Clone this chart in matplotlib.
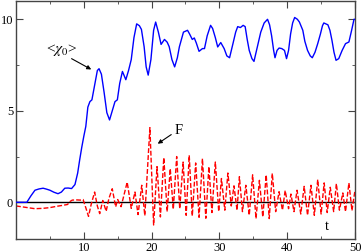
import matplotlib
matplotlib.use("Agg")
import matplotlib.pyplot as plt
from matplotlib.ticker import MultipleLocator

plt.rcParams['font.family'] = ['Liberation Serif', 'DejaVu Serif']
plt.rcParams['mathtext.fontset'] = 'stix'

# <chi_0>(t)
t_chi = [0, 1.6, 2.2, 2.8, 3.4, 4.0, 4.5, 5.0, 5.6, 6.2, 6.7, 7.2, 7.7, 8.2, 8.7, 9.1, 9.4, 9.7,
         10.0, 10.3, 10.6, 10.9, 11.2, 11.6, 12.0, 12.25, 12.6, 13.0, 13.4, 13.8, 14.2, 14.6,
         14.95, 15.3, 15.7, 16.2, 16.6, 17.0, 17.4, 17.8, 18.2, 18.5, 18.9, 19.2, 19.5, 19.9,
         20.3, 20.6, 21.0, 21.4, 21.9, 22.3, 22.6, 23.0, 23.4, 23.8, 24.1, 24.7, 25.3, 25.6,
         26.0, 26.3, 26.6, 27.0, 27.5, 27.8, 28.2, 28.7, 29.0, 29.4, 29.75, 30.2, 30.7, 31.1,
         31.5, 32.0, 32.4, 32.7, 33.1, 33.5, 33.8, 34.1, 34.4, 34.8, 35.1, 35.6, 36.1, 36.6,
         37.1, 37.4, 37.7, 38.0, 38.2, 38.5, 38.8, 39.2, 39.6, 39.9, 40.2, 40.5, 40.8, 41.1,
         41.5, 41.8, 42.3, 42.6, 43.0, 43.4, 43.7, 44.1, 44.5, 44.9, 45.2, 45.4, 46.0, 46.3,
         46.6, 46.9, 47.2, 47.6, 48.1, 48.6, 49.1, 49.5, 49.85, 50]
chi = [0, 0, 0.35, 0.66, 0.73, 0.77, 0.72, 0.66, 0.55, 0.47, 0.56, 0.77, 0.78, 0.75, 0.97, 1.6, 2.33, 3.0,
       3.6, 4.15, 5.2, 5.5, 5.6, 6.4, 7.2, 7.3, 7.0, 6.0, 4.9, 4.5, 5.0, 5.5,
       5.6, 6.5, 7.15, 6.7, 7.2, 7.8, 9.0, 9.75, 9.65, 9.45, 8.5, 7.4, 6.95, 7.8,
       9.4, 9.85, 9.3, 8.63, 8.9, 8.75, 8.5, 7.8, 7.4, 7.9, 8.5, 9.3, 9.4, 9.2,
       8.9, 8.98, 8.7, 8.25, 8.4, 8.4, 9.1, 9.67, 9.5, 9.0, 8.49, 8.73, 8.4, 8.0,
       7.9, 8.67, 9.3, 9.6, 9.55, 9.67, 9.6, 8.9, 8.3, 7.85, 7.7, 8.5, 9.3, 9.8,
       10.0, 9.7, 9.1, 8.3, 7.9, 8.3, 8.43, 8.4, 8.3, 7.85, 8.3, 9.2, 9.8, 10.1,
       10.0, 9.85, 9.4, 8.8, 8.3, 8.0, 7.9, 8.2, 8.67, 9.2, 9.65, 9.8, 9.7, 9.4,
       8.85, 8.2, 7.76, 7.85, 8.3, 8.67, 8.76, 9.4, 10.0, 10.0]

# F(t), peaks and troughs
t_F = [0, 1.5, 2.8, 4.0, 5.0, 6.0, 7.0, 7.6, 8.0, 8.3, 9.0, 9.5, 9.9, 10.3, 10.7, 11.1, 11.6,
       12.0, 12.35, 12.8, 13.3, 13.7, 14.2, 14.7, 15.0, 15.5, 16.4, 17.0, 17.55, 18.0, 18.55,
       19.0, 19.75, 20.3, 20.8, 21.3, 21.8, 22.3, 22.75, 23.2, 23.7, 24.15, 24.65, 25.1, 25.55,
       26.0, 26.5, 27.0, 27.5, 28.0, 28.45, 28.9, 29.4, 29.9, 30.3, 30.8, 31.25, 31.75, 32.15,
       32.6, 32.95, 33.4, 33.9, 34.4, 34.9, 35.4, 35.9, 36.4, 36.9, 37.35, 37.8, 38.3, 38.8,
       39.3, 39.7, 40.2, 40.55, 41.0, 41.45, 42.0, 42.5, 43.0, 43.5, 44.0, 44.5, 45.0, 45.45,
       45.9, 46.35, 46.85, 47.25, 47.7, 48.2, 48.6, 49.1, 49.55, 50.0]
F = [-0.2, -0.28, -0.35, -0.33, -0.29, -0.22, -0.16, -0.12, 0.05, 0.12, 0.13, 0.12, 0.15, -0.3, -0.77, -0.1, 0.56,
     -0.2, -0.62, 0.1, -0.49, 0.2, 0.74, -0.25, 0.15, -0.24, 1.1, -0.33, 0.56, -0.67, 0.93,
     -0.73, 4.08, -1.24, 1.95, -0.8, 2.44, -0.51, 1.84, -0.38, 2.5, -0.35, 2.2, -0.71, 2.57,
     -0.75, 2.15, -0.82, 2.39, -0.87, 1.95, -0.56, 2.2, -0.5, 1.3, -0.43, 1.6, -0.2, 0.9,
     -0.43, 1.4, -0.51, 0.93, -0.71, 1.5, -0.89, 1.2, -0.8, 1.5, -0.89, 1.58, -0.51, 0.58,
     -0.43, 0.64, -0.35, 0.45, -0.51, 0.66, -0.64, 0.87, -0.71, 0.93, -0.71, 1.24, -0.64, 1.06,
     -0.56, 0.82, -0.51, 1.02, -0.43, 0.51, -0.51, 1.06, -0.45, 0.66]

fig = plt.figure(figsize=(3.63, 2.52), dpi=100)
ax = fig.add_axes([0.044, 0.052, 0.934, 0.944])

ax.axhline(0, color='black', lw=1.0, zorder=1)
ax.plot(t_chi, chi, color='#0000ff', lw=1.0, zorder=3)
ax.plot(t_F, F, color='#ff0000', lw=1.0, dashes=(3.5, 1.5), zorder=2)

ax.set_xlim(0, 50)
ax.set_ylim(-2, 11)
ax.xaxis.set_major_locator(MultipleLocator(10))
ax.xaxis.set_minor_locator(MultipleLocator(5))
ax.yaxis.set_major_locator(MultipleLocator(5))
ax.yaxis.set_minor_locator(MultipleLocator(2.5))
ax.tick_params(which='both', direction='in', top=True, right=True, labelsize=9, pad=2, color='#444444')
ax.tick_params(which='major', length=5)
ax.tick_params(which='minor', length=2.5)
ax.set_xticks([10, 20, 30, 40, 50])
ax.set_yticks([0, 5, 10])
for s in ax.spines.values():
    s.set_color('#444444')
    s.set_linewidth(1.0)

arrow = dict(arrowstyle='-|>', color='black', lw=0.8, mutation_scale=6, shrinkA=0, shrinkB=0)
ax.text(6.8, 8.35, r'<$\chi_0$>', fontsize=11, ha='center', va='center')
ax.annotate('', xy=(11.1, 7.26), xytext=(8.2, 7.85), arrowprops=arrow)
ax.text(24.0, 3.95, 'F', fontsize=10.5, ha='center', va='center')
ax.annotate('', xy=(20.9, 3.2), xytext=(22.9, 3.7), arrowprops=arrow)
ax.text(45.9, -1.3, 't', fontsize=10.5, ha='center', va='center')

fig.savefig('out.png', dpi=100)
